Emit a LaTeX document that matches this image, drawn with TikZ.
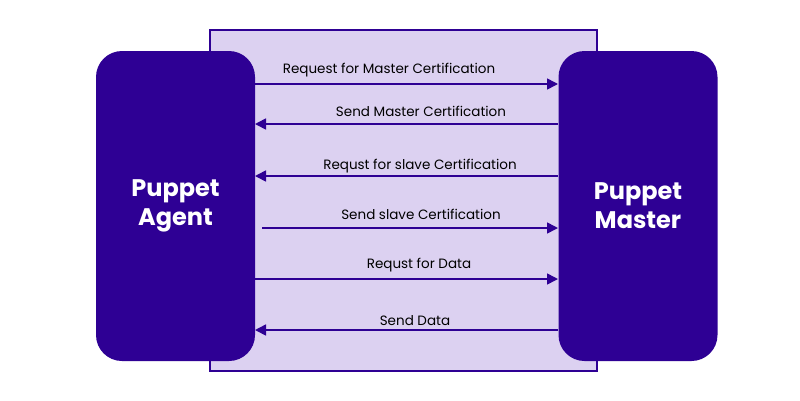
\documentclass[tikz,border=0pt]{standalone}
\usepackage{fontspec}
\setmainfont{Poppins}
\usetikzlibrary{positioning,arrows.meta}
\definecolor{deep}{HTML}{2E0094}
\definecolor{lilac}{HTML}{DCD1F1}
\begin{document}
\begin{tikzpicture}[x=1pt,y=-1pt,
  side/.style={draw=none,fill=deep,rounded corners=26pt,minimum width=159pt,minimum height=310pt,
    text=white,font=\fontsize{24}{29}\selectfont\bfseries,align=center,inner sep=0pt},
  msg/.style={draw=deep,line width=1.6pt,-{Triangle[length=11pt,width=11pt]}},
  lbl/.style={font=\fontsize{13.5}{15}\selectfont,text=black,inner sep=0pt}]
  \useasboundingbox (0,0) rectangle (800,400);
  \fill[white] (0,0) rectangle (800,400);
  \draw[deep,fill=lilac,line width=1.8pt] (210,30) rectangle (597,371);
  \node (agent) [side] at (175.5,206) {Puppet\\Agent};
  \node (master) [side] at (638,206) {Puppet\\Master};
  % anchors along the boxes
  \coordinate (a1) at (255,84);  \coordinate (m1) at (558,84);
  \coordinate (a2) at (255,124); \coordinate (m2) at (558,124);
  \coordinate (a3) at (255,176); \coordinate (m3) at (558,176);
  \coordinate (a4) at (262,228); \coordinate (m4) at (558,228);
  \coordinate (a5) at (255,279); \coordinate (m5) at (558,279);
  \coordinate (a6) at (255,330); \coordinate (m6) at (558,330);
  \draw[msg] (a1) -- (m1);
  \draw[msg] (m2) -- (a2);
  \draw[msg] (m3) -- (a3);
  \draw[msg] (a4) -- (m4);
  \draw[msg] (a5) -- (m5);
  \draw[msg] (m6) -- (a6);
  \node (l1) [lbl] at (389,70) {Request for Master Certification};
  \node (l2) [lbl] at (421,111) {Send Master Certification};
  \node (l3) [lbl] at (420,166) {Requst for slave Certification};
  \node (l4) [lbl] at (421,214) {Send slave Certification};
  \node (l5) [lbl] at (419,265) {Requst for Data};
  \node (l6) [lbl] at (415,321) {Send Data};
\end{tikzpicture}
\end{document}
